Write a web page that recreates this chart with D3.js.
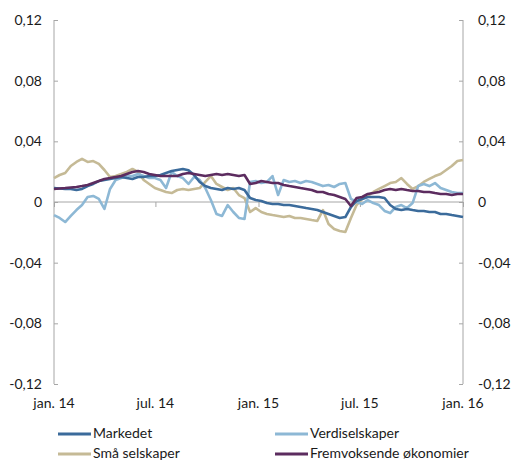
<!DOCTYPE html>
<html>
<head>
<meta charset="utf-8">
<script src="https://cdn.jsdelivr.net/npm/d3@7"></script>
<style>
    body { margin: 0; background: #fff; }
    svg text { font-family: Lato, "Noto Sans", sans-serif; fill: #1a1a1a; }
</style>
</head>
<body>
<svg id="chart" width="511" height="461"></svg>
<script>
/** Chart data, one value every 10 days from 1 Jan 2014 */
const startDate = new Date(2014, 0, 1);
const stepDays = 10;

const markedet = [
    0.0092, 0.0089, 0.0086, 0.0086, 0.0079, 0.0086, 0.0105, 0.0119, 0.0138, 0.0145,
    0.0152, 0.0158, 0.0165, 0.0158, 0.0152, 0.0165, 0.0165, 0.0171, 0.0171, 0.0178,
    0.0191, 0.0204, 0.0211, 0.0218, 0.0210, 0.0178, 0.0132, 0.0105, 0.0092, 0.0086,
    0.0079, 0.0092, 0.0086, 0.0092, 0.0079, 0.0026, 0.0013, 0.0007, -0.0007, -0.0013,
    -0.0013, -0.0020, -0.0020, -0.0026, -0.0033, -0.0040, -0.0046, -0.0053, -0.0066, -0.0079,
    -0.0092, -0.0105, -0.0099, -0.0033, 0.0007, 0.0020, 0.0033, 0.0033, 0.0033, 0.0026,
    -0.0020, -0.0046, -0.0053, -0.0046, -0.0053, -0.0059, -0.0059, -0.0066, -0.0066, -0.0079,
    -0.0079, -0.0086, -0.0092, -0.0099
];

const verdiselskaper = [
    -0.0086, -0.0105, -0.0132, -0.0092, -0.0053, -0.0020, 0.0033, 0.0040, 0.0020, -0.0046,
    0.0086, 0.0145, 0.0158, 0.0171, 0.0171, 0.0185, 0.0171, 0.0158, 0.0158, 0.0145,
    0.0092, 0.0198, 0.0171, 0.0158, 0.0119, 0.0165, 0.0145, 0.0092, 0.0013, -0.0079,
    -0.0092, -0.0020, -0.0066, -0.0105, -0.0112, 0.0132, 0.0138, 0.0125, 0.0132, 0.0171,
    0.0046, 0.0145, 0.0132, 0.0138, 0.0125, 0.0138, 0.0132, 0.0119, 0.0105, 0.0112,
    0.0099, 0.0119, 0.0125, 0.0020, 0.0000, -0.0013, 0.0013, -0.0007, -0.0020, -0.0059,
    -0.0073, -0.0033, -0.0020, -0.0040, -0.0007, 0.0105, 0.0119, 0.0105, 0.0125, 0.0092,
    0.0079, 0.0066, 0.0059, 0.0059
];

const smaSelskaper = [
    0.0158, 0.0178, 0.0191, 0.0237, 0.0264, 0.0284, 0.0264, 0.0270, 0.0251, 0.0211,
    0.0165, 0.0171, 0.0185, 0.0198, 0.0218, 0.0198, 0.0145, 0.0119, 0.0092, 0.0079,
    0.0066, 0.0059, 0.0079, 0.0086, 0.0079, 0.0086, 0.0092, 0.0132, 0.0171, 0.0119,
    0.0099, 0.0079, 0.0092, 0.0046, 0.0026, -0.0066, -0.0040, -0.0066, -0.0079, -0.0086,
    -0.0092, -0.0099, -0.0092, -0.0105, -0.0105, -0.0112, -0.0119, -0.0125, -0.0053, -0.0145,
    -0.0178, -0.0191, -0.0198, -0.0105, -0.0020, 0.0020, 0.0040, 0.0066, 0.0086, 0.0105,
    0.0125, 0.0132, 0.0158, 0.0119, 0.0086, 0.0105, 0.0132, 0.0152, 0.0171, 0.0185,
    0.0211, 0.0237, 0.0270, 0.0277
];

const fremvoksende = [
    0.0086, 0.0089, 0.0092, 0.0096, 0.0099, 0.0105, 0.0112, 0.0125, 0.0138, 0.0152,
    0.0158, 0.0165, 0.0171, 0.0185, 0.0198, 0.0204, 0.0198, 0.0185, 0.0178, 0.0171,
    0.0171, 0.0171, 0.0171, 0.0185, 0.0191, 0.0185, 0.0178, 0.0171, 0.0178, 0.0185,
    0.0178, 0.0185, 0.0178, 0.0171, 0.0178, 0.0119, 0.0125, 0.0138, 0.0132, 0.0125,
    0.0125, 0.0112, 0.0105, 0.0099, 0.0092, 0.0086, 0.0079, 0.0066, 0.0066, 0.0053,
    0.0046, 0.0033, 0.0020, -0.0026, 0.0026, 0.0033, 0.0053, 0.0059, 0.0066, 0.0079,
    0.0086, 0.0079, 0.0086, 0.0079, 0.0073, 0.0073, 0.0066, 0.0066, 0.0059, 0.0053,
    0.0053, 0.0046, 0.0053, 0.0053
];

const yTicks = [-0.12, -0.08, -0.04, 0, 0.04, 0.08, 0.12];
const xTickDates = [new Date(2014, 0, 1), new Date(2014, 6, 1), new Date(2015, 0, 1), new Date(2015, 6, 1), new Date(2016, 0, 1)];
const xTickLabels = ['jan. 14', 'jul. 14', 'jan. 15', 'jul. 15', 'jan. 16'];

const seriesNames = ['Markedet', 'Verdiselskaper', 'Små selskaper', 'Fremvoksende økonomier'];
const seriesColors = ['#3b6b9b', '#8db8d5', '#c5ba96', '#5c2c5f'];
const seriesValues = [markedet, verdiselskaper, smaSelskaper, fremvoksende];

// Draw order: beige and light blue under, purple on top
const drawOrder = [2, 1, 0, 3];

/** Layout */
const plot = { left: 54, right: 463, top: 20, bottom: 384 };
const axisColor = '#a6a6a6';

const svg = d3.select('#chart');

const xScale = d3.scaleTime()
    .domain([xTickDates[0], xTickDates[xTickDates.length - 1]])
    .range([plot.left, plot.right]);
const yScale = d3.scaleLinear().domain([-0.12, 0.12]).range([plot.bottom, plot.top]);

const dateAt = i => d3.timeDay.offset(startDate, i * stepDays);
const fmt = v => v === 0 ? '0' : v.toFixed(2).replace('.', ',');

// Left and right axes (ticks pointing inward)
const yLeft = svg.append('g')
    .attr('transform', `translate(${plot.left},0)`)
    .call(d3.axisRight(yScale).tickValues(yTicks).tickSize(4).tickFormat(''));
const yRight = svg.append('g')
    .attr('transform', `translate(${plot.right},0)`)
    .call(d3.axisLeft(yScale).tickValues(yTicks).tickSize(4).tickFormat(''));
[yLeft, yRight].forEach(g => {
    g.select('.domain').attr('stroke', axisColor).attr('d', `M0,${plot.top}V${plot.bottom}`);
    g.selectAll('.tick line').attr('stroke', axisColor);
});

// Zero line with month ticks below it
const xAxis = svg.append('g')
    .attr('transform', `translate(0,${yScale(0)})`)
    .call(d3.axisBottom(xScale).tickValues(xTickDates).tickSize(5).tickFormat(''));
xAxis.select('.domain').attr('stroke', axisColor).attr('d', `M${plot.left},0H${plot.right}`);
xAxis.selectAll('.tick line').attr('stroke', axisColor);

// Tick labels
svg.append('g').selectAll('text')
    .data(yTicks)
    .enter().append('text')
    .attr('x', plot.left - 12)
    .attr('y', d => yScale(d))
    .attr('dy', '0.35em')
    .attr('text-anchor', 'end')
    .attr('font-size', 14)
    .text(fmt);
svg.append('g').selectAll('text')
    .data(yTicks)
    .enter().append('text')
    .attr('x', plot.right + 15)
    .attr('y', d => yScale(d))
    .attr('dy', '0.35em')
    .attr('text-anchor', 'start')
    .attr('font-size', 14)
    .text(fmt);
svg.append('g').selectAll('text')
    .data(xTickDates)
    .enter().append('text')
    .attr('x', d => xScale(d))
    .attr('y', 408)
    .attr('text-anchor', 'middle')
    .attr('font-size', 14)
    .text((d, i) => xTickLabels[i]);

// Series lines
const lineGenerator = d3.line()
    .x((d, i) => xScale(dateAt(i)))
    .y(d => yScale(d));

drawOrder.forEach(k => {
    svg.append('path')
        .datum(seriesValues[k])
        .attr('fill', 'none')
        .attr('stroke', seriesColors[k])
        .attr('stroke-width', 2.6)
        .attr('stroke-linejoin', 'round')
        .attr('d', lineGenerator);
});

// Legend, two columns
const legendX = [58, 275];
const legendY = [434, 454];
seriesNames.forEach((name, k) => {
    const lx = legendX[k % 2];
    const ly = legendY[Math.floor(k / 2)];
    const g = svg.append('g');
    g.append('line')
        .attr('x1', lx).attr('x2', lx + 33)
        .attr('y1', ly).attr('y2', ly)
        .attr('stroke', seriesColors[k])
        .attr('stroke-width', 3);
    g.append('text')
        .attr('x', lx + 35)
        .attr('y', ly)
        .attr('dy', '0.32em')
        .attr('font-size', 14)
        .text(name);
});
</script>
</body>
</html>
